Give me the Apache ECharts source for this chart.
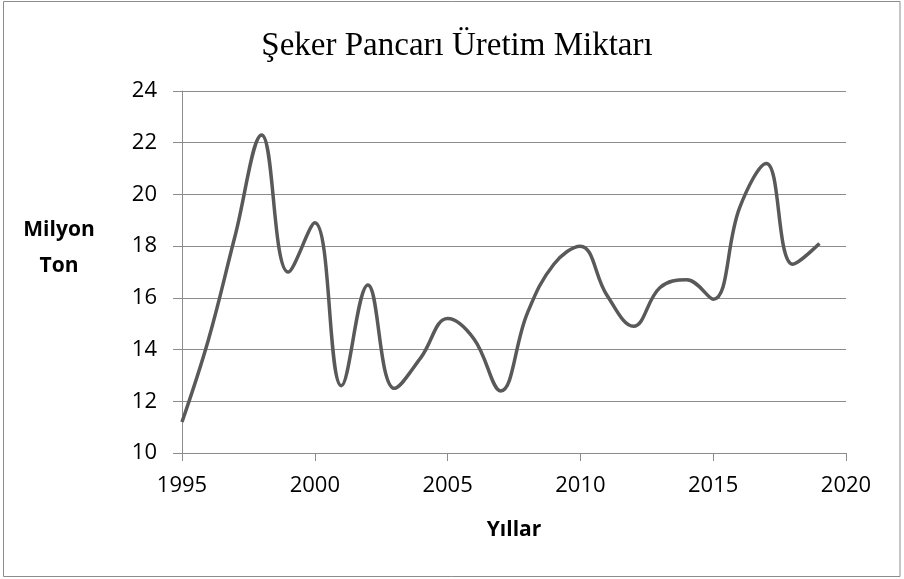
<!DOCTYPE html>
<html>
<head>
<meta charset="utf-8">
<script src="https://cdn.jsdelivr.net/npm/echarts@6/dist/echarts.min.js"></script>
<style>
  html, body { margin: 0; padding: 0; background: #fff; }
  #chart { width: 904px; height: 579px; }
</style>
</head>
<body>
<div id="chart"></div>
<script>
var years = [1995, 1996, 1997, 1998, 1999, 2000, 2001, 2002, 2003, 2004, 2005, 2006, 2007,
  2008, 2009, 2010, 2011, 2012, 2013, 2014, 2015, 2016, 2017, 2018, 2019]
var uretim = [11.2, 14.4, 18.4, 22.3, 17.0, 18.9, 12.6, 16.5, 12.5, 13.7, 15.2, 14.4, 12.4,
  15.4, 17.3, 18.0, 16.1, 14.9, 16.4, 16.7, 15.95, 19.5, 21.2, 17.3, 18.1]

var chart = echarts.init(document.getElementById('chart'))
var points = years.map(function (y, i) { return [y, uretim[i]] })

chart.setOption({
  animation: false,
  backgroundColor: '#fff',
  title: {
    text: 'Şeker Pancarı Üretim Miktarı',
    left: 452,
    top: 25,
    textAlign: 'center',
    textStyle: {
      fontFamily: 'Liberation Serif',
      fontSize: 33,
      fontWeight: 'normal',
      color: '#000'
    }
  },
  graphic: [{
    type: 'rect',
    shape: { x: 3.5, y: 1.5, width: 896.5, height: 575 },
    style: { fill: 'none', stroke: '#8c8c8c', lineWidth: 1 }
  }, {
    // y ekseni başlığı
    type: 'text',
    x: 59,
    y: 248,
    style: {
      text: 'Milyon\nTon',
      align: 'center',
      verticalAlign: 'middle',
      lineHeight: 36,
      font: 'bold 21px "Open Sans"',
      fill: '#000'
    }
  }],
  grid: { left: 182, right: 58, top: 91, bottom: 126 },
  xAxis: {
    type: 'value',
    min: 1995,
    max: 2020,
    interval: 5,
    name: 'Yıllar',
    nameLocation: 'middle',
    nameGap: 67,
    nameTextStyle: { fontFamily: 'Open Sans', fontSize: 21, fontWeight: 'bold', color: '#000' },
    axisLine: { show: true, lineStyle: { color: '#8c8c8c', width: 1 } },
    axisTick: { show: true, length: 8, lineStyle: { color: '#8c8c8c' } },
    axisLabel: { margin: 22, fontFamily: 'Open Sans', fontSize: 22, color: '#000', formatter: function (v) { return String(v) } },
    splitLine: { show: false }
  },
  yAxis: {
    type: 'value',
    min: 10,
    max: 24,
    interval: 2,
    axisLine: { show: true, lineStyle: { color: '#8c8c8c', width: 1 } },
    axisTick: { show: true, length: 9, lineStyle: { color: '#8c8c8c' } },
    axisLabel: { margin: 25, fontFamily: 'Open Sans', fontSize: 22, color: '#000' },
    splitLine: { show: true, lineStyle: { color: '#8c8c8c', width: 1 } }
  },
  series: [{
    type: 'line',
    data: points,
    smooth: 0.4,
    symbol: 'none',
    lineStyle: { color: '#595959', width: 3.5 }
  }]
})
</script>
</body>
</html>
